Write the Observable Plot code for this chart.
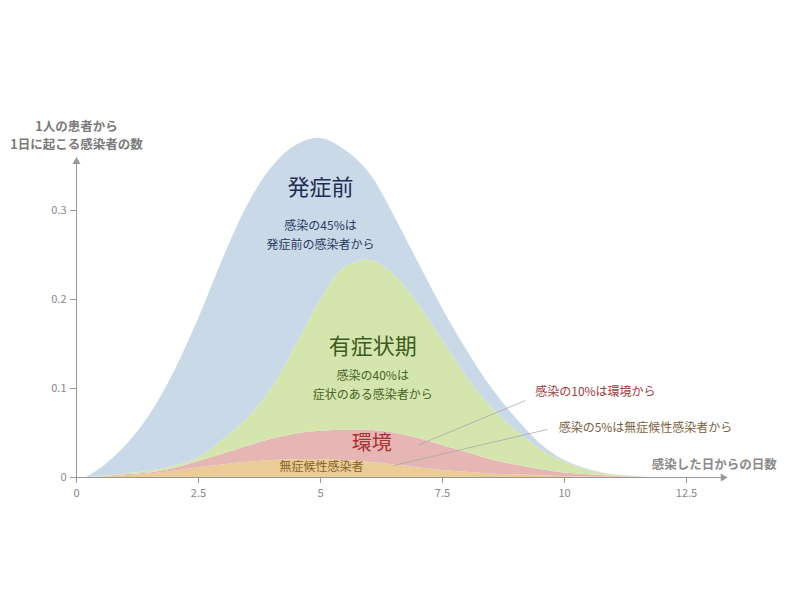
<!DOCTYPE html>
<html>
<head>
<meta charset="utf-8">
<script src="https://cdn.jsdelivr.net/npm/d3@7"></script>
<script src="https://cdn.jsdelivr.net/npm/@observablehq/plot@0.6"></script>
<style>
  html, body { margin: 0; padding: 0; background: #fff; }
  #chart { width: 800px; height: 600px; }
</style>
</head>
<body>
<div id="chart"></div>
<script>
// Days since infection
const days = [0.2, 0.5, 1, 1.5, 2, 2.5, 3, 3.5, 4, 4.5, 5, 5.5, 6, 6.5, 7, 7.5, 8, 8.5, 9, 9.5, 10, 10.5, 11, 11.5, 11.7];

// Component values (stacked from bottom to top)
const asymptomatic   = [0, 0.0005, 0.002, 0.004, 0.007, 0.011, 0.014, 0.017, 0.019, 0.02, 0.02, 0.019, 0.017, 0.014, 0.011, 0.008, 0.006, 0.004, 0.003, 0.002, 0.001, 0.0005, 0.0002, 0, 0];
const environment    = [0, 0, 0.001, 0.001, 0.003, 0.007, 0.012, 0.018, 0.024, 0.029, 0.032, 0.034, 0.036, 0.036, 0.033, 0.028, 0.022, 0.016, 0.011, 0.007, 0.004, 0.0025, 0.0013, 0.0005, 0];
const symptomatic    = [0, 0.0005, 0.001, 0.002, 0.003, 0.004, 0.016, 0.031, 0.057, 0.099, 0.147, 0.183, 0.191, 0.178, 0.151, 0.118, 0.085, 0.059, 0.039, 0.023, 0.012, 0.005, 0.0015, 0.0005, 0];
const presymptomatic = [0, 0.009, 0.031, 0.063, 0.105, 0.156, 0.203, 0.239, 0.248, 0.225, 0.182, 0.132, 0.098, 0.067, 0.047, 0.036, 0.03, 0.022, 0.014, 0.006, 0.002, 0.001, 0, 0, 0];

const seriesNames = ["無症候性感染者", "環境", "有症状期", "発症前"];
const seriesColors = ["#eccc96", "#e6b6b4", "#d4e6ad", "#c9d9e7"];

const xTicks = [0, 2.5, 5, 7.5, 10, 12.5];
const yTicks = [0, 0.1, 0.2, 0.3];

const yTitle = "1人の患者から\n1日に起こる感染者の数";
const xTitle = "感染した日からの日数";

// Build long table
const seriesValues = [asymptomatic, environment, symptomatic, presymptomatic];
const rows = [];
seriesNames.forEach((name, si) => {
  days.forEach((d, i) => rows.push({day: d, value: seriesValues[si][i], series: name}));
});

const font = "'Noto Sans CJK JP', 'Noto Sans', sans-serif";

const chart = Plot.plot({
  width: 800,
  height: 600,
  marginLeft: 76,
  marginRight: 16.4,
  marginTop: 121,
  marginBottom: 123,
  style: {fontFamily: font, background: "#fff"},
  x: {domain: [0, 14.5], axis: null},
  y: {domain: [0, 0.4], axis: null},
  color: {domain: seriesNames, range: seriesColors},
  marks: [
    Plot.areaY(rows, {x: "day", y: "value", fill: "series", curve: "catmull-rom"}),

    // Axes
    Plot.ruleY([0], {x1: 0, x2: 13.25, stroke: "#999", strokeWidth: 1}),
    Plot.ruleX([0], {y1: 0, y2: 0.352, stroke: "#999", strokeWidth: 1}),
    Plot.dot([0], {x: 13.25, y: 0, symbol: "triangle", r: 3, fill: "#999", stroke: null, rotate: 90}),
    Plot.dot([0], {x: 0, y: 0.355, symbol: "triangle", r: 3, fill: "#999", stroke: null}),
    Plot.axisX(xTicks, {label: null, tickSize: 6, tickPadding: 6, stroke: "#999", fill: "#888", fontSize: 11, tickFormat: d => String(d)}),
    Plot.axisY(yTicks, {label: null, tickSize: 6, tickPadding: 4, stroke: "#999", fill: "#888", fontSize: 11, tickFormat: d => String(d)}),

    // Axis titles
    Plot.text([yTitle], {x: 0, y: 0.3854, text: d => d, fill: "#7a7a7a", fontSize: 12.5, fontWeight: "bold", lineHeight: 1.42}),
    Plot.text([xTitle], {x: 13.07, y: 0.0135, text: d => d, fill: "#8a8a8a", fontSize: 12.5, fontWeight: "bold"}),

    // Leader lines
    Plot.link([0], {x1: 9.2, y1: 0.0865, x2: 6.99, y2: 0.036, stroke: "#aaa", strokeWidth: 0.8}),
    Plot.link([0], {x1: 9.65, y1: 0.054, x2: 6.5, y2: 0.0135, stroke: "#aaa", strokeWidth: 0.8}),

    // Labels in areas
    Plot.text(["発症前"], {x: 5.0, y: 0.325, text: d => d, fill: "#1f2d55", fontSize: 22}),
    Plot.text(["感染の45%は\n発症前の感染者から"], {x: 5.0, y: 0.2745, text: d => d, fill: "#2b3a62", fontSize: 12, lineHeight: 1.6}),
    Plot.text(["有症状期"], {x: 6.07, y: 0.147, text: d => d, fill: "#3f5a1f", fontSize: 22}),
    Plot.text(["感染の40%は\n症状のある感染者から"], {x: 6.07, y: 0.106, text: d => d, fill: "#4a6328", fontSize: 12, lineHeight: 1.6}),
    Plot.text(["環境"], {x: 6.05, y: 0.038, text: d => d, fill: "#a83232", fontSize: 20}),
    Plot.text(["無症候性感染者"], {x: 5.02, y: 0.012, text: d => d, fill: "#85642a", fontSize: 12}),

    // Side annotations
    Plot.text(["感染の10%は環境から"], {x: 9.4, y: 0.096, text: d => d, textAnchor: "start", fill: "#a03b3b", fontSize: 12}),
    Plot.text(["感染の5%は無症候性感染者から"], {x: 9.88, y: 0.055, text: d => d, textAnchor: "start", fill: "#7d5e3c", fontSize: 12})
  ]
});

document.getElementById("chart").appendChild(chart);
</script>
</body>
</html>
